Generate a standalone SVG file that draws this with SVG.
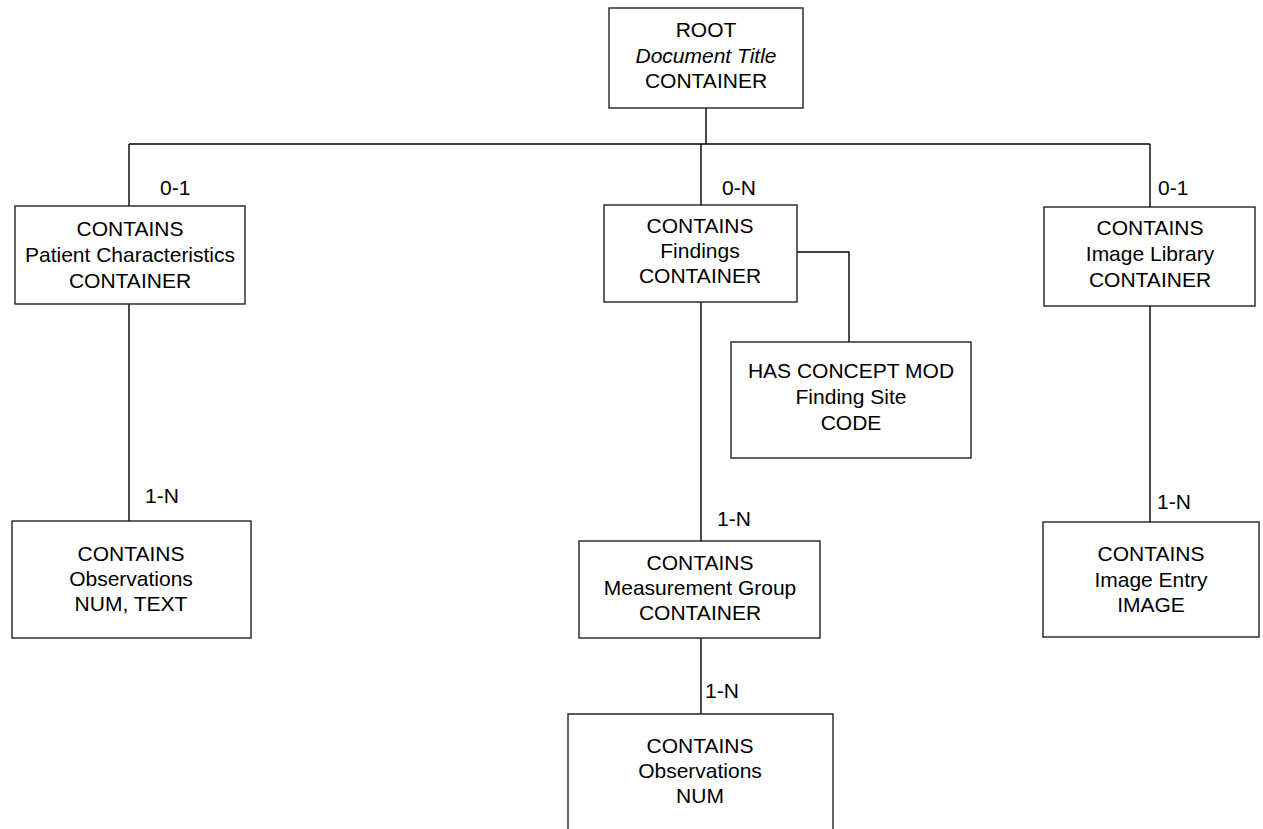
<svg xmlns="http://www.w3.org/2000/svg" width="1263" height="829" viewBox="0 0 1263 829">
<style>
.box{fill:#fff;stroke:#222;stroke-width:1.4}
.ln{fill:none;stroke:#000;stroke-width:1.4}
text{font-family:"Liberation Sans",Arial,sans-serif;font-size:21px;fill:#000}
.c{text-anchor:middle}
.i{font-style:italic}
</style>
<rect width="1263" height="829" fill="#fff"/>
<g id="connectors">
<path class="ln" d="M706 108V144M129 144H1150M129 144V206M701 144V205M1150 144V207"/>
<path class="ln" d="M797 252H849V342"/>
<path class="ln" d="M129 304V521M701 302V541M1150 306V522M701 638V714"/>
<text x="160" y="195">0-1</text>
<text x="722" y="195">0-N</text>
<text x="1158" y="195">0-1</text>
<text x="145" y="503">1-N</text>
<text x="717" y="526">1-N</text>
<text x="1157" y="509">1-N</text>
<text x="705" y="698">1-N</text>
</g>
<g id="root">
<rect class="box" x="609" y="8" width="194" height="100"/>
<text class="c" x="706" y="37">ROOT</text>
<text class="c i" x="706" y="63">Document Title</text>
<text class="c" x="706" y="88">CONTAINER</text>
</g>
<g id="patient">
<rect class="box" x="15" y="206" width="230" height="98"/>
<text class="c" x="130" y="236">CONTAINS</text>
<text class="c" x="130" y="262">Patient Characteristics</text>
<text class="c" x="130" y="288">CONTAINER</text>
</g>
<g id="findings">
<rect class="box" x="604" y="205" width="193" height="97"/>
<text class="c" x="700" y="233">CONTAINS</text>
<text class="c" x="700" y="258">Findings</text>
<text class="c" x="700" y="283">CONTAINER</text>
</g>
<g id="imagelib">
<rect class="box" x="1044" y="207" width="211" height="99"/>
<text class="c" x="1150" y="235">CONTAINS</text>
<text class="c" x="1150" y="261">Image Library</text>
<text class="c" x="1150" y="287">CONTAINER</text>
</g>
<g id="findingsite">
<rect class="box" x="731" y="342" width="240" height="116"/>
<text class="c" x="851" y="378">HAS CONCEPT MOD</text>
<text class="c" x="851" y="404">Finding Site</text>
<text class="c" x="851" y="430">CODE</text>
</g>
<g id="obs1">
<rect class="box" x="12" y="521" width="239" height="117"/>
<text class="c" x="131" y="561">CONTAINS</text>
<text class="c" x="131" y="586">Observations</text>
<text class="c" x="131" y="611">NUM, TEXT</text>
</g>
<g id="measgroup">
<rect class="box" x="579" y="541" width="241" height="97"/>
<text class="c" x="700" y="570">CONTAINS</text>
<text class="c" x="700" y="595">Measurement Group</text>
<text class="c" x="700" y="620">CONTAINER</text>
</g>
<g id="imageentry">
<rect class="box" x="1043" y="522" width="216" height="115"/>
<text class="c" x="1151" y="561">CONTAINS</text>
<text class="c" x="1151" y="587">Image Entry</text>
<text class="c" x="1151" y="612">IMAGE</text>
</g>
<g id="obs2">
<path class="box" d="M568 840V714H833V840"/>
<text class="c" x="700" y="753">CONTAINS</text>
<text class="c" x="700" y="778">Observations</text>
<text class="c" x="700" y="803">NUM</text>
</g>
</svg>
